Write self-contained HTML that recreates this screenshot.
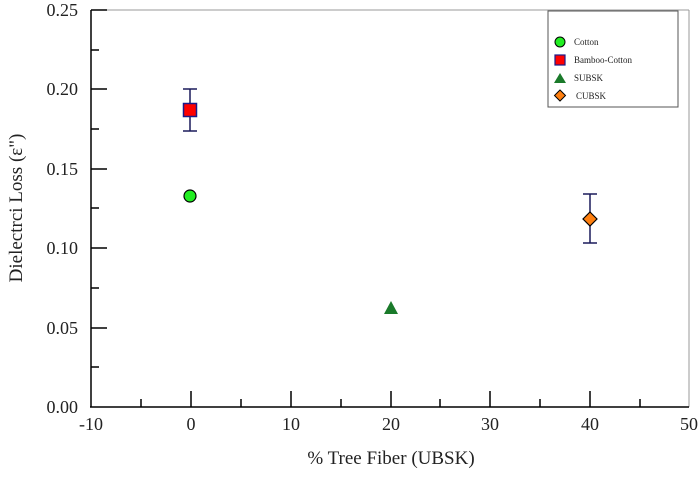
<!DOCTYPE html>
<html><head><style>body{margin:0;background:#fff}</style></head><body>
<svg width="700" height="472" xmlns="http://www.w3.org/2000/svg" font-family="Liberation Serif, serif">
<rect width="700" height="472" fill="#fff"/>
<line x1="91" y1="10" x2="689" y2="10" stroke="#999" stroke-width="1"/>
<line x1="689" y1="10" x2="689" y2="407" stroke="#999" stroke-width="1"/>
<g stroke="#000" stroke-width="1.5">
<line x1="91" y1="10" x2="91" y2="407.5"/>
<line x1="90" y1="407" x2="689" y2="407"/>
<!-- x ticks -->
<line x1="191" y1="407" x2="191" y2="391"/><line x1="291" y1="407" x2="291" y2="391"/><line x1="391" y1="407" x2="391" y2="391"/><line x1="490" y1="407" x2="490" y2="391"/><line x1="590" y1="407" x2="590" y2="391"/>
<line x1="141" y1="407" x2="141" y2="399"/><line x1="241" y1="407" x2="241" y2="399"/><line x1="341" y1="407" x2="341" y2="399"/><line x1="440" y1="407" x2="440" y2="399"/><line x1="540" y1="407" x2="540" y2="399"/><line x1="640" y1="407" x2="640" y2="399"/>
<!-- y ticks -->
<line x1="91" y1="10" x2="107" y2="10"/><line x1="91" y1="89" x2="107" y2="89"/><line x1="91" y1="169" x2="107" y2="169"/><line x1="91" y1="248" x2="107" y2="248"/><line x1="91" y1="328" x2="107" y2="328"/>
<line x1="91" y1="50" x2="99" y2="50"/><line x1="91" y1="129" x2="99" y2="129"/><line x1="91" y1="208" x2="99" y2="208"/><line x1="91" y1="288" x2="99" y2="288"/><line x1="91" y1="367" x2="99" y2="367"/>
</g>
<g font-size="18" fill="#222" text-anchor="middle">
<text x="91" y="430">-10</text><text x="191" y="430">0</text><text x="291" y="430">10</text><text x="391" y="430">20</text><text x="490" y="430">30</text><text x="590" y="430">40</text><text x="689" y="430">50</text>
</g>
<g font-size="18" fill="#222" text-anchor="end">
<text x="78" y="16">0.25</text><text x="78" y="95">0.20</text><text x="78" y="175">0.15</text><text x="78" y="254">0.10</text><text x="78" y="334">0.05</text><text x="78" y="413">0.00</text>
</g>
<text x="391" y="464" font-size="19" text-anchor="middle" fill="#222">% Tree Fiber (UBSK)</text>
<text transform="translate(22,208) rotate(-90)" font-size="19" text-anchor="middle" fill="#222">Dielectrci Loss (ε")</text>
<!-- error bars -->
<g stroke="#1a1a5a" stroke-width="1.5">
<line x1="190" y1="89" x2="190" y2="131"/><line x1="183" y1="89" x2="197" y2="89"/><line x1="183" y1="131" x2="197" y2="131"/>
<line x1="590" y1="194" x2="590" y2="243"/><line x1="583" y1="194" x2="597" y2="194"/><line x1="583" y1="243" x2="597" y2="243"/>
</g>
<circle cx="190" cy="196" r="6" fill="#22ee22" stroke="#000" stroke-width="1.2"/>
<rect x="183.5" y="103.5" width="13" height="13" fill="#ff0000" stroke="#1a1a8a" stroke-width="1.5"/>
<polygon points="391,301 398,314 384,314" fill="#1a7a2a"/>
<polygon points="590,212 597,219 590,226 583,219" fill="#ff8010" stroke="#000" stroke-width="1.2"/>
<!-- legend -->
<rect x="548" y="11" width="130" height="96" fill="#fff" stroke="#555" stroke-width="1"/>
<circle cx="560" cy="42" r="5" fill="#22ee22" stroke="#000" stroke-width="1"/>
<rect x="555" y="55" width="10" height="10" fill="#ff0000" stroke="#1a1a8a" stroke-width="1.2"/>
<polygon points="560,73 566,83 554,83" fill="#1a7a2a"/>
<polygon points="560,90 565.5,95.5 560,101 554.5,95.5" fill="#ff8010" stroke="#000" stroke-width="1"/>
<g font-size="9" fill="#222">
<text x="574" y="45">Cotton</text><text x="574" y="63">Bamboo-Cotton</text><text x="574" y="81">SUBSK</text><text x="576" y="99">CUBSK</text>
</g>
</svg>
</body></html>
